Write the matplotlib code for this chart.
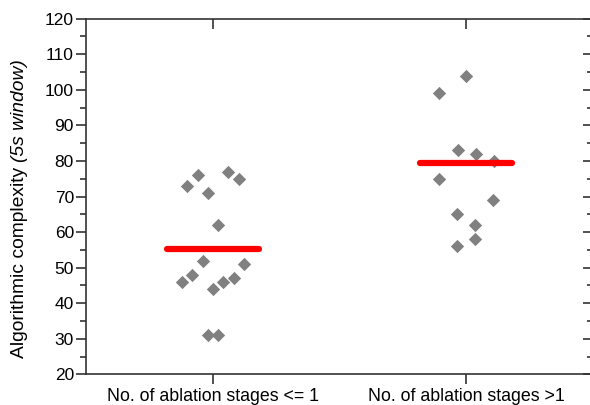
import matplotlib
matplotlib.use("Agg")
import matplotlib.pyplot as plt
import matplotlib.lines as mlines
from matplotlib.transforms import offset_copy
import numpy as np

plt.rcParams['font.family'] = ['Liberation Sans', 'DejaVu Sans']

# datos
categorias = ['No. of ablation stages <= 1', 'No. of ablation stages >1']

grupo1_val = [77, 76, 75, 73, 71, 62, 52, 51, 48, 47, 46, 46, 44, 31, 31]
grupo1_dx = [0.061, -0.061, 0.103, -0.102, -0.019, 0.019, -0.040, 0.123,
             -0.082, 0.083, -0.122, 0.041, 0.001, -0.021, 0.020]

grupo2_val = [104, 99, 83, 82, 80, 75, 69, 65, 62, 58, 56]
grupo2_dx = [0.0, -0.107, -0.033, 0.038, 0.110, -0.107, 0.106, -0.035,
             0.033, 0.033, -0.036]

medias = [55.2, 79.3]

fig = plt.figure(figsize=(5.9, 4.05), dpi=100)
ax = fig.add_axes([0.1466, 0.0758, 0.858, 0.878])

gris = '#808080'
ax.scatter(1 + np.array(grupo1_dx), grupo1_val, marker='D', s=46,
           color=gris, linewidths=0, zorder=2)
ax.scatter(2 + np.array(grupo2_dx), grupo2_val, marker='D', s=46,
           color=gris, linewidths=0, zorder=2)

for i, m in enumerate(medias):
    ax.plot([i + 1 - 0.183, i + 1 + 0.183], [m, m], color='#ff0000',
            lw=4.5, solid_capstyle='round', zorder=3)

ax.set_xlim(0.5, 2.5)
ax.set_ylim(20, 120)
ax.set_xticks([1, 2])
ax.set_xticklabels(categorias, fontsize=12.8)
ax.set_yticks(range(20, 121, 10))
ax.set_yticks(range(25, 120, 10), minor=True)
ax.tick_params(axis='y', labelsize=12.5)

ax.tick_params(axis='x', which='major', direction='out', length=7, width=1.2,
               color='#333333', pad=3)
ax.tick_params(axis='y', which='major', direction='out', length=7, width=1.2,
               color='#333333', pad=2, right=True)
ax.tick_params(axis='y', which='minor', direction='out', length=4, width=1.2,
               color='#333333', right=True)

# ticks de la derecha hacia adentro
for t in ax.yaxis.get_major_ticks() + ax.yaxis.get_minor_ticks():
    t.tick2line.set_marker(mlines.TICKLEFT)

# ticks de arriba hacia adentro, en las mismas posiciones que los de abajo
xt = ax.get_xticks()
ax.plot(xt, np.ones(len(xt)), ls='none', marker=mlines.TICKDOWN, ms=7,
        mew=1.2, color='#333333', transform=ax.get_xaxis_transform(),
        clip_on=False, zorder=5)

for s in ax.spines.values():
    s.set_linewidth(1.2)
    s.set_color('#333333')

# etiqueta del eje y en dos partes (la segunda en italica)
t1 = ax.text(-0.133, 0.045, 'Algorithmic complexity ', transform=ax.transAxes,
             rotation=90, ha='center', va='bottom', fontsize=13.9)
fig.canvas.draw()
alto = t1.get_window_extent().height
tr = offset_copy(ax.transAxes, fig=fig, x=0, y=alto * 72 / fig.dpi, units='points')
ax.text(-0.133, 0.045, '(5s window)', transform=tr, rotation=90,
        ha='center', va='bottom', fontsize=13.9, style='italic')

fig.savefig('out.png', dpi=100)
